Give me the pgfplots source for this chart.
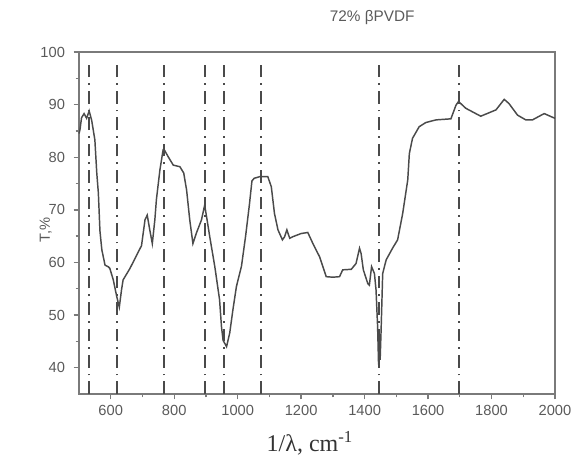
\documentclass[border=0pt]{standalone}
\usepackage{fontspec}
\setmainfont{Liberation Sans}
\newfontfamily\serifx{Liberation Serif}
\usepackage{pgfplots}
\pgfplotsset{compat=1.18}
\definecolor{axgray}{HTML}{7A7A7A}
\definecolor{txtgray}{HTML}{5A5A5A}
\definecolor{curve}{HTML}{4A4A4A}
\begin{document}
\begin{tikzpicture}
\path[use as bounding box] (-59.25pt,-51pt) rectangle (369.75pt,295.5pt);
\begin{axis}[
    scale only axis,
    width=357pt, height=256.5pt,
    xmin=500, xmax=2000, ymin=35, ymax=100,
    xtick={600,800,...,2000}, ytick={40,50,...,100},
    minor x tick num=1, minor y tick num=1,
    tick pos=left, tick align=outside,
    major tick length=4pt, minor tick length=2.5pt,
    axis line style={axgray, line width=1.4pt},
    every tick/.style={axgray, line width=1pt},
    ticklabel style={font=\fontsize{11}{13}\selectfont, text=txtgray},
    xticklabel style={yshift=-1pt},
    yticklabel style={xshift=-3pt},
    /pgf/number format/assume math mode=true,
    /pgf/number format/1000 sep={},
    xlabel={\serifx\fontsize{18}{20}\selectfont 1/λ, cm\textsuperscript{-1}},
    xlabel style={at={(axis description cs:0.485,0)}, anchor=base, yshift=-43pt, text=black!80},
    clip=false,
    dline/.style={curve, line width=1.3pt, dash pattern=on 9.5pt off 4.5pt on 1.3pt off 4.5pt, forget plot},
]
% marker lines
\addplot[dline] coordinates {(532,35) (532,98.1)};
\addplot[dline] coordinates {(620,35) (620,98.1)};
\addplot[dline] coordinates {(767,35) (767,98.1)};
\addplot[dline] coordinates {(898,35) (898,98.1)};
\addplot[dline] coordinates {(957,35) (957,98.1)};
\addplot[dline] coordinates {(1073.5,35) (1073.5,98.1)};
\addplot[dline] coordinates {(1445.5,35) (1445.5,98.1)};
\addplot[dline] coordinates {(1697.5,35) (1697.5,98.1)};
\addplot[curve, line width=1.1pt] coordinates {
(500,84.5) (503,85.2) (508,87.5) (516,88.3) (524,87.4) (532,88.8) (540,87.0)
(550,83.3) (556,77) (561,73.2) (566,66) (572,62.4) (582,59.5) (592,59.2) (597,58.9)
(608,56.7) (619,53.5) (627,51.5) (634,54.8) (639,56.7) (660,58.8) (697,63.2)
(708,68.1) (715,69.0) (723,66.2) (731,63.6) (739,68.1) (744,72.0) (755,77.6)
(765,81.4) (767,81.6) (781,80.1) (797,78.5) (818,78.2) (830,77.0) (839,73.8)
(849,68.1) (859,63.6) (870,65.6) (886,68.1) (896,70.9) (902,68.7) (912,64.9)
(928,59.2) (943,52.9) (949,47.8) (954,45.2) (965,44.0) (975,46.6) (985,51.0)
(996,55.4) (1012,59.3) (1025,65.0) (1037,71.0) (1045,75.5) (1052,76.0)
(1069,76.3) (1095,76.3) (1106,74.4) (1116,69.3) (1127,66.2) (1141,64.3)
(1148,64.9) (1155,66.2) (1164,64.6) (1174,64.9) (1200,65.5) (1221,65.7)
(1237,63.6) (1258,61.1) (1279,57.3) (1300,57.2) (1321,57.3) (1331,58.6)
(1358,58.7) (1373,59.8) (1384,62.7) (1389,61.7) (1396,58.6) (1410,56.0)
(1415,55.7) (1422,59.2) (1431,57.9) (1436,54.8) (1441,47.8) (1444,40.6)
(1447,46) (1449,41.5) (1452,47.1) (1457,57.9) (1468,60.5) (1488,62.7) (1504,64.3)
(1520,69.3) (1536,75.7) (1541,80.7) (1551,83.6) (1572,85.8) (1593,86.6)
(1625,87.1) (1672,87.3) (1688,89.9) (1696,90.6) (1719,89.3) (1766,87.8)
(1814,89.0) (1840,91.0) (1855,90.2) (1882,88.0) (1908,87.1) (1929,87.1)
(1966,88.3) (1992,87.6) (2000,87.4)
};
\node[font=\fontsize{11.5}{13}\selectfont, text=txtgray, anchor=center] at (axis description cs:0.616,1) [yshift=25.5pt] {72\% βPVDF};
\node[font=\fontsize{11}{13}\selectfont, text=txtgray, anchor=center, rotate=90] at ([xshift=-25pt]axis description cs:0,0.48) {T,\%};
\end{axis}
\end{tikzpicture}
\end{document}
